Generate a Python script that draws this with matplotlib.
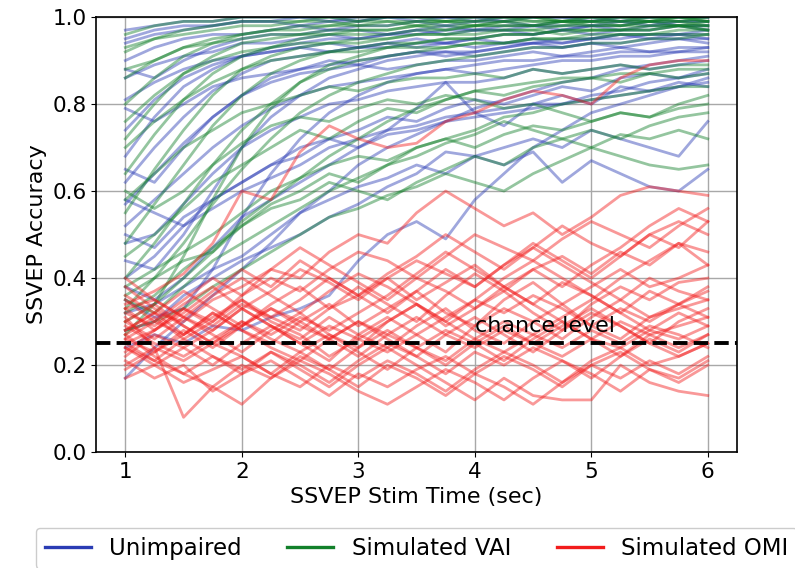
import matplotlib
matplotlib.use("Agg")
import matplotlib.pyplot as plt

stim_time = [1.0, 1.25, 1.5, 1.75, 2.0, 2.25, 2.5, 2.75, 3.0, 3.25, 3.5,
             3.75, 4.0, 4.25, 4.5, 4.75, 5.0, 5.25, 5.5, 5.75, 6.0]

unimpaired = [
    [0.97,0.98,0.99,0.99,1.00,1.00,1.00,0.99,1.00,1.00,1.00,1.00,1.00,1.00,1.00,1.00,1.00,1.00,1.00,1.00,1.00],
    [0.94,0.96,0.97,0.98,0.99,0.99,0.98,0.99,0.99,1.00,0.99,1.00,1.00,0.99,1.00,1.00,0.99,1.00,1.00,1.00,1.00],
    [0.90,0.93,0.95,0.96,0.96,0.97,0.98,0.97,0.98,0.98,0.99,0.98,0.99,0.99,0.98,0.99,0.99,0.99,0.98,0.99,0.99],
    [0.86,0.89,0.91,0.92,0.94,0.94,0.95,0.96,0.95,0.96,0.97,0.96,0.97,0.97,0.96,0.97,0.98,0.97,0.98,0.98,0.97],
    [0.81,0.85,0.88,0.90,0.91,0.92,0.93,0.92,0.93,0.94,0.93,0.94,0.95,0.94,0.95,0.94,0.95,0.96,0.95,0.96,0.95],
    [0.74,0.81,0.86,0.89,0.91,0.92,0.93,0.94,0.93,0.94,0.95,0.94,0.95,0.96,0.96,0.97,0.96,0.97,0.97,0.98,0.98],
    [0.68,0.77,0.84,0.88,0.91,0.93,0.94,0.95,0.95,0.96,0.96,0.97,0.97,0.97,0.98,0.98,0.98,0.99,0.99,0.99,0.99],
    [0.62,0.70,0.77,0.83,0.87,0.90,0.91,0.92,0.93,0.93,0.94,0.94,0.93,0.94,0.94,0.95,0.95,0.96,0.96,0.96,0.97],
    [0.57,0.64,0.71,0.77,0.82,0.86,0.88,0.89,0.90,0.91,0.92,0.92,0.91,0.92,0.93,0.93,0.94,0.94,0.95,0.95,0.95],
    [0.52,0.58,0.64,0.70,0.75,0.79,0.82,0.84,0.85,0.86,0.87,0.88,0.87,0.88,0.89,0.90,0.90,0.91,0.91,0.92,0.92],
    [0.48,0.50,0.57,0.64,0.70,0.74,0.77,0.80,0.81,0.83,0.84,0.85,0.85,0.86,0.88,0.87,0.88,0.89,0.88,0.89,0.90],
    [0.44,0.42,0.50,0.60,0.70,0.77,0.82,0.86,0.88,0.90,0.91,0.92,0.92,0.93,0.94,0.94,0.95,0.95,0.96,0.96,0.96],
    [0.58,0.55,0.52,0.56,0.60,0.63,0.66,0.70,0.72,0.74,0.75,0.77,0.78,0.79,0.80,0.80,0.82,0.83,0.85,0.86,0.87],
    [0.38,0.35,0.40,0.47,0.54,0.58,0.62,0.66,0.70,0.73,0.74,0.76,0.77,0.78,0.79,0.80,0.81,0.82,0.83,0.84,0.85],
    [0.32,0.34,0.38,0.42,0.45,0.50,0.55,0.58,0.61,0.63,0.66,0.64,0.68,0.70,0.72,0.70,0.74,0.72,0.70,0.68,0.76],
    [0.28,0.30,0.36,0.40,0.44,0.47,0.50,0.54,0.57,0.61,0.64,0.69,0.68,0.66,0.69,0.62,0.67,0.64,0.61,0.60,0.65],
    [0.17,0.24,0.30,0.36,0.42,0.48,0.55,0.60,0.66,0.70,0.73,0.76,0.79,0.81,0.83,0.85,0.86,0.88,0.89,0.90,0.91],
    [0.24,0.27,0.25,0.29,0.28,0.31,0.33,0.36,0.44,0.50,0.53,0.49,0.58,0.64,0.70,0.74,0.78,0.80,0.82,0.84,0.86],
    [0.65,0.62,0.70,0.77,0.82,0.85,0.87,0.88,0.89,0.88,0.89,0.90,0.90,0.91,0.92,0.91,0.92,0.93,0.92,0.93,0.93],
    [0.88,0.86,0.90,0.93,0.95,0.96,0.96,0.97,0.97,0.96,0.97,0.98,0.97,0.98,0.98,0.97,0.98,0.98,0.99,0.98,0.98],
    [0.79,0.76,0.80,0.84,0.86,0.87,0.88,0.90,0.89,0.91,0.92,0.91,0.92,0.93,0.94,0.93,0.94,0.93,0.94,0.95,0.94],
    [0.40,0.45,0.52,0.58,0.62,0.66,0.70,0.72,0.74,0.77,0.76,0.79,0.81,0.80,0.82,0.84,0.83,0.86,0.87,0.86,0.88],
    [0.35,0.31,0.33,0.42,0.54,0.64,0.72,0.78,0.82,0.85,0.87,0.88,0.89,0.90,0.90,0.91,0.91,0.92,0.92,0.92,0.93],
    [0.95,0.97,0.98,0.98,0.99,0.99,1.00,1.00,0.99,1.00,1.00,1.00,0.99,1.00,1.00,1.00,1.00,0.99,1.00,1.00,1.00],
    [0.50,0.47,0.54,0.58,0.62,0.66,0.68,0.72,0.70,0.74,0.79,0.85,0.78,0.75,0.80,0.82,0.80,0.84,0.83,0.85,0.84],
]

simulated_vai = [
    [0.96,0.98,0.99,0.99,1.00,1.00,1.00,1.00,1.00,1.00,1.00,1.00,1.00,1.00,1.00,1.00,1.00,1.00,1.00,1.00,1.00],
    [0.92,0.95,0.97,0.98,0.99,0.99,0.99,1.00,0.99,1.00,1.00,0.99,1.00,1.00,1.00,0.99,1.00,1.00,1.00,1.00,0.99],
    [0.86,0.90,0.93,0.95,0.96,0.97,0.98,0.98,0.99,0.99,0.98,0.99,0.99,0.99,1.00,0.99,0.99,1.00,0.99,1.00,1.00],
    [0.80,0.86,0.91,0.94,0.96,0.97,0.97,0.98,0.98,0.98,0.99,0.99,0.98,0.99,0.99,0.99,1.00,0.99,0.99,0.99,0.99],
    [0.72,0.80,0.87,0.91,0.94,0.95,0.96,0.96,0.97,0.97,0.98,0.98,0.98,0.99,0.98,0.99,0.99,0.99,0.99,1.00,0.99],
    [0.64,0.73,0.81,0.87,0.91,0.93,0.95,0.96,0.96,0.96,0.97,0.97,0.98,0.98,0.98,0.98,0.99,0.98,0.99,0.99,0.98],
    [0.55,0.65,0.74,0.82,0.88,0.91,0.93,0.94,0.95,0.95,0.96,0.96,0.97,0.97,0.97,0.98,0.98,0.98,0.98,0.98,0.98],
    [0.48,0.57,0.66,0.75,0.82,0.87,0.90,0.92,0.93,0.94,0.94,0.95,0.95,0.96,0.96,0.97,0.97,0.97,0.97,0.98,0.97],
    [0.40,0.48,0.57,0.66,0.74,0.80,0.85,0.88,0.90,0.91,0.92,0.93,0.94,0.94,0.95,0.95,0.96,0.96,0.96,0.97,0.97],
    [0.33,0.40,0.48,0.57,0.65,0.72,0.78,0.82,0.85,0.87,0.89,0.90,0.91,0.92,0.93,0.93,0.94,0.94,0.95,0.95,0.96],
    [0.30,0.34,0.40,0.46,0.53,0.58,0.63,0.68,0.72,0.76,0.79,0.81,0.83,0.84,0.85,0.86,0.86,0.87,0.87,0.88,0.88],
    [0.35,0.32,0.38,0.44,0.48,0.52,0.56,0.60,0.63,0.66,0.70,0.72,0.74,0.77,0.78,0.80,0.81,0.82,0.83,0.84,0.84],
    [0.28,0.30,0.33,0.38,0.42,0.46,0.50,0.54,0.56,0.59,0.61,0.64,0.62,0.60,0.64,0.67,0.70,0.68,0.66,0.65,0.66],
    [0.38,0.42,0.46,0.50,0.55,0.60,0.63,0.66,0.68,0.67,0.70,0.72,0.70,0.73,0.75,0.74,0.76,0.78,0.77,0.80,0.82],
    [0.32,0.36,0.42,0.47,0.52,0.57,0.60,0.64,0.62,0.66,0.68,0.71,0.73,0.76,0.74,0.72,0.70,0.73,0.72,0.74,0.72],
    [0.58,0.64,0.70,0.74,0.78,0.80,0.82,0.84,0.83,0.85,0.86,0.86,0.87,0.86,0.88,0.87,0.88,0.89,0.88,0.89,0.89],
    [0.88,0.90,0.93,0.94,0.95,0.96,0.96,0.97,0.97,0.97,0.98,0.97,0.98,0.98,0.98,0.99,0.98,0.98,0.99,0.98,0.99],
    [0.70,0.76,0.81,0.85,0.88,0.90,0.91,0.92,0.92,0.93,0.93,0.93,0.94,0.94,0.95,0.95,0.95,0.96,0.96,0.96,0.96],
    [0.27,0.34,0.45,0.58,0.70,0.79,0.85,0.89,0.91,0.93,0.94,0.95,0.95,0.96,0.96,0.97,0.97,0.97,0.98,0.98,0.98],
    [0.45,0.50,0.56,0.62,0.66,0.70,0.74,0.72,0.76,0.79,0.78,0.81,0.83,0.82,0.84,0.85,0.86,0.85,0.87,0.86,0.87],
    [0.60,0.56,0.60,0.66,0.71,0.75,0.77,0.76,0.79,0.81,0.80,0.82,0.81,0.79,0.80,0.78,0.76,0.78,0.77,0.79,0.80],
    [0.36,0.40,0.44,0.46,0.52,0.56,0.58,0.62,0.60,0.58,0.62,0.65,0.68,0.66,0.70,0.72,0.74,0.72,0.75,0.77,0.78],
    [0.93,0.95,0.96,0.97,0.98,0.98,0.99,0.99,0.98,0.99,0.99,0.99,0.99,1.00,0.99,0.99,0.99,0.99,1.00,0.99,1.00],
    [0.76,0.82,0.87,0.90,0.92,0.93,0.94,0.94,0.94,0.95,0.96,0.96,0.96,0.97,0.97,0.96,0.97,0.97,0.97,0.98,0.97],
]

simulated_omi = [
    [0.34,0.37,0.41,0.48,0.60,0.58,0.69,0.75,0.72,0.70,0.71,0.76,0.78,0.81,0.83,0.82,0.80,0.86,0.89,0.90,0.90],
    [0.28,0.32,0.30,0.35,0.38,0.42,0.40,0.46,0.50,0.48,0.55,0.60,0.56,0.52,0.55,0.50,0.54,0.59,0.61,0.60,0.59],
    [0.25,0.28,0.33,0.30,0.36,0.40,0.37,0.42,0.46,0.44,0.40,0.45,0.50,0.47,0.44,0.49,0.53,0.50,0.47,0.52,0.56],
    [0.32,0.29,0.34,0.38,0.33,0.37,0.42,0.39,0.35,0.40,0.44,0.41,0.38,0.43,0.47,0.52,0.48,0.45,0.50,0.53,0.50],
    [0.27,0.31,0.26,0.30,0.35,0.31,0.28,0.33,0.38,0.34,0.30,0.36,0.41,0.37,0.42,0.45,0.41,0.46,0.43,0.48,0.46],
    [0.35,0.30,0.27,0.32,0.28,0.25,0.30,0.34,0.29,0.33,0.37,0.32,0.29,0.35,0.39,0.34,0.38,0.42,0.38,0.40,0.43],
    [0.30,0.26,0.31,0.27,0.23,0.28,0.32,0.27,0.24,0.30,0.34,0.29,0.33,0.37,0.32,0.28,0.34,0.38,0.35,0.39,0.40],
    [0.22,0.27,0.24,0.20,0.25,0.29,0.25,0.21,0.27,0.31,0.27,0.23,0.29,0.33,0.30,0.26,0.31,0.35,0.31,0.34,0.37],
    [0.33,0.35,0.31,0.28,0.33,0.29,0.26,0.31,0.27,0.24,0.29,0.33,0.28,0.25,0.30,0.34,0.29,0.26,0.31,0.33,0.35],
    [0.26,0.23,0.27,0.32,0.28,0.24,0.21,0.26,0.30,0.26,0.22,0.27,0.31,0.27,0.23,0.28,0.32,0.29,0.25,0.30,0.33],
    [0.20,0.24,0.21,0.25,0.22,0.18,0.23,0.27,0.23,0.19,0.24,0.28,0.25,0.21,0.26,0.30,0.26,0.22,0.27,0.29,0.31],
    [0.29,0.25,0.22,0.26,0.30,0.26,0.23,0.19,0.24,0.28,0.24,0.20,0.25,0.29,0.25,0.22,0.26,0.24,0.28,0.26,0.29],
    [0.24,0.21,0.18,0.22,0.19,0.23,0.20,0.16,0.21,0.25,0.22,0.18,0.23,0.20,0.24,0.21,0.17,0.22,0.26,0.23,0.27],
    [0.17,0.20,0.16,0.19,0.22,0.18,0.15,0.20,0.17,0.21,0.18,0.14,0.19,0.23,0.20,0.16,0.21,0.24,0.20,0.22,0.25],
    [0.21,0.17,0.20,0.14,0.18,0.21,0.17,0.13,0.18,0.15,0.19,0.22,0.18,0.15,0.11,0.16,0.20,0.17,0.21,0.18,0.22],
    [0.27,0.22,0.18,0.15,0.11,0.17,0.21,0.18,0.14,0.11,0.15,0.19,0.16,0.12,0.17,0.21,0.18,0.14,0.19,0.16,0.20],
    [0.31,0.24,0.08,0.15,0.20,0.17,0.22,0.19,0.15,0.20,0.17,0.13,0.18,0.22,0.19,0.15,0.20,0.23,0.19,0.17,0.21],
    [0.25,0.21,0.26,0.22,0.18,0.23,0.19,0.15,0.20,0.24,0.20,0.16,0.12,0.17,0.13,0.12,0.12,0.20,0.16,0.14,0.13],
    [0.36,0.32,0.37,0.33,0.29,0.34,0.38,0.33,0.36,0.40,0.35,0.39,0.43,0.38,0.34,0.39,0.36,0.32,0.37,0.34,0.38],
    [0.40,0.35,0.31,0.36,0.40,0.36,0.32,0.37,0.41,0.38,0.34,0.30,0.35,0.32,0.36,0.33,0.29,0.33,0.30,0.34,0.31],
    [0.23,0.28,0.33,0.29,0.34,0.31,0.35,0.40,0.36,0.32,0.37,0.42,0.38,0.43,0.48,0.44,0.40,0.45,0.50,0.47,0.53],
    [0.30,0.34,0.29,0.25,0.30,0.27,0.31,0.28,0.32,0.36,0.41,0.46,0.42,0.38,0.34,0.30,0.26,0.30,0.27,0.24,0.27],
    [0.19,0.23,0.28,0.24,0.29,0.33,0.30,0.26,0.22,0.27,0.31,0.27,0.24,0.28,0.25,0.29,0.33,0.29,0.25,0.22,0.25],
    [0.33,0.28,0.32,0.37,0.42,0.38,0.44,0.40,0.36,0.41,0.45,0.50,0.46,0.42,0.47,0.43,0.39,0.35,0.40,0.37,0.35],
    [0.28,0.32,0.27,0.31,0.35,0.30,0.27,0.22,0.26,0.23,0.27,0.31,0.35,0.40,0.44,0.40,0.36,0.32,0.28,0.32,0.29],
    [0.38,0.33,0.29,0.25,0.29,0.33,0.29,0.26,0.30,0.27,0.24,0.21,0.26,0.30,0.27,0.31,0.35,0.40,0.44,0.48,0.43],
    [0.26,0.30,0.35,0.40,0.36,0.42,0.47,0.43,0.39,0.35,0.40,0.37,0.33,0.38,0.42,0.38,0.43,0.47,0.52,0.56,0.53],
    [0.24,0.20,0.24,0.28,0.33,0.29,0.25,0.29,0.26,0.30,0.34,0.30,0.26,0.23,0.27,0.24,0.28,0.25,0.29,0.27,0.24],
]

chance_level = 0.25
group_labels = ["Unimpaired", "Simulated VAI", "Simulated OMI"]
group_colors = ["#2a3cb4", "#12802a", "#f21c1c"]

fig = plt.figure(figsize=(7.95, 5.68), dpi=100)
ax = fig.add_axes([0.121, 0.204, 0.806, 0.766])

for series, color, label in zip([unimpaired, simulated_vai, simulated_omi], group_colors, group_labels):
    for vals in series:
        ax.plot(stim_time, vals, color=color, alpha=0.45, lw=2.0)
    ax.plot([], [], color=color, lw=2.4, label=label)

ax.axhline(chance_level, color="black", ls="--", lw=2.8, zorder=5)
ax.text(4.0, chance_level + 0.025, "chance level", fontsize=16, zorder=6)

ax.set_xlim(0.75, 6.25)
ax.set_ylim(0.0, 1.0)
ax.set_xticks([1, 2, 3, 4, 5, 6])
ax.set_yticks([0.0, 0.2, 0.4, 0.6, 0.8, 1.0])
ax.tick_params(labelsize=15.5)
ax.grid(True, color="#a8a8a8", lw=1.0)
ax.set_axisbelow(True)
ax.set_xlabel("SSVEP Stim Time (sec)", fontsize=16)
ax.set_ylabel("SSVEP Accuracy", fontsize=16)
for s in ax.spines.values():
    s.set_linewidth(1.2)

ax.legend(loc="upper center", bbox_to_anchor=(0.5, -0.147), ncol=3, fontsize=16.5,
          shadow=True, fancybox=True, columnspacing=2.0)

fig.savefig("out.png", dpi=100)
